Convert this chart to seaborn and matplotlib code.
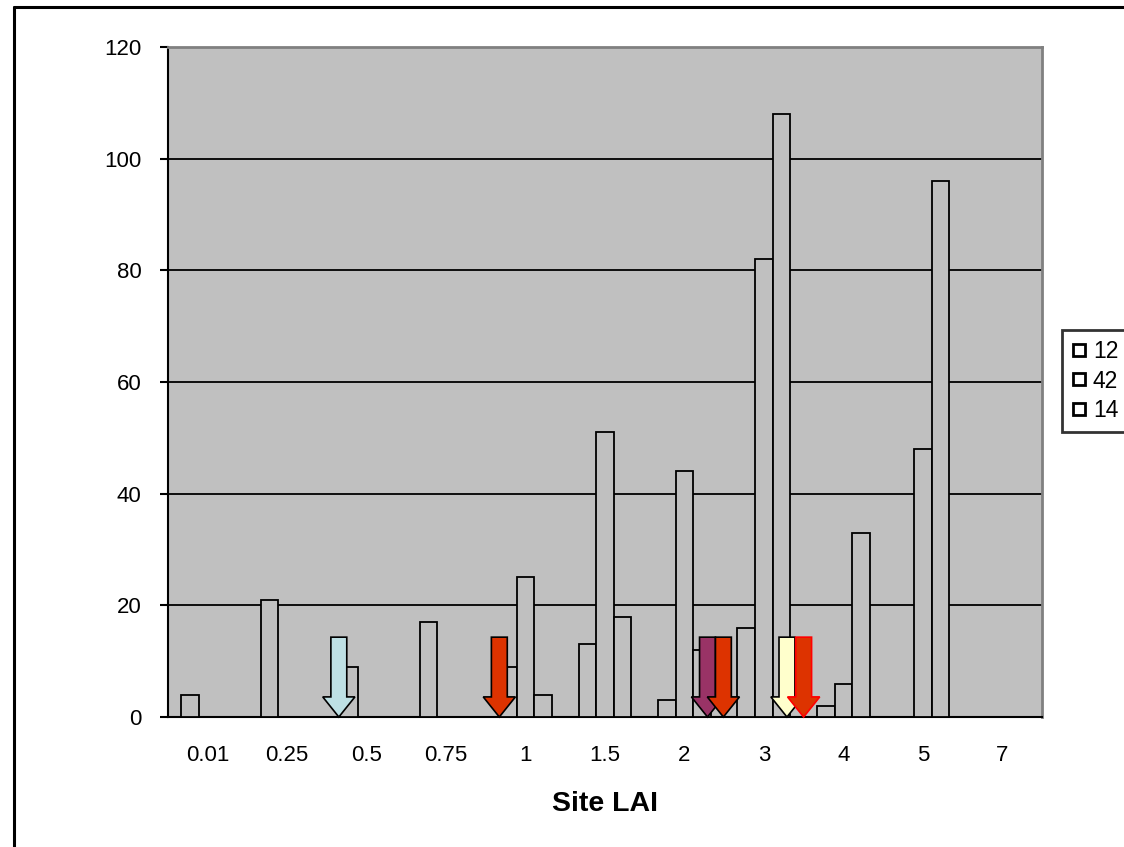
import pandas as pd
import matplotlib.pyplot as plt
import seaborn as sns
from matplotlib.patches import FancyArrow
from matplotlib.lines import Line2D

# site LAI classes and counts for the three series
lai = ['0.01', '0.25', '0.5', '0.75', '1', '1.5', '2', '3', '4', '5', '7']
s12 = [4, 21, 9, 17, 9, 13, 3, 16, 2, 0, 0]
s42 = [0, 0, 0, 0, 25, 51, 44, 82, 6, 48, 0]
s14 = [0, 0, 0, 0, 4, 18, 12, 108, 33, 96, 0]
series = ['12', '42', '14']

# down arrows marking positions on the category axis
arrow_x = [1.65, 3.67, 6.29, 6.49, 7.29, 7.50]
arrow_fc = ['#BEE0E4', '#DD3300', '#993366', '#DD3300', '#FFFFCC', '#DD3300']
arrow_ec = ['black', 'black', 'black', 'black', 'black', '#FF0000']

rows = []
for name, vals in zip(series, [s12, s42, s14]):
    for c, v in zip(lai, vals):
        rows.append({'lai': c, 'series': name, 'count': v})
df = pd.DataFrame(rows)

sns.set_style('white')
plt.rcParams['font.family'] = ['Liberation Sans', 'DejaVu Sans']
plt.rcParams.update({'text.color': 'black', 'axes.labelcolor': 'black',
                     'xtick.color': 'black', 'ytick.color': 'black'})

fig = plt.figure(figsize=(11.24, 8.47), dpi=100)
ax = fig.add_axes([168/1124, 1-717/847, (1042-168)/1124, (717-47)/847])
ax.set_facecolor('#C0C0C0')

sns.barplot(data=df, x='lai', y='count', hue='series', hue_order=series,
            order=lai, palette=['#C0C0C0']*3, edgecolor='black',
            linewidth=1.3, width=0.667, errorbar=None, ax=ax, zorder=3)
ax.get_legend().remove()

ax.set_xlim(-0.5, len(lai) - 0.5)
ax.set_ylim(0, 120)
ax.set_yticks(range(0, 121, 20))
for y in range(20, 101, 20):
    ax.axhline(y, color='black', lw=1.3, zorder=1)

for x, fc, ec in zip(arrow_x, arrow_fc, arrow_ec):
    ax.add_patch(FancyArrow(x, 14.3, 0, -14.3, width=0.2, head_width=0.405,
                            head_length=3.6, length_includes_head=True,
                            fc=fc, ec=ec, lw=1.2, zorder=5, clip_on=False))

for s in ['top', 'right']:
    ax.spines[s].set_color('#808080')
    ax.spines[s].set_linewidth(2)
for s in ['left', 'bottom']:
    ax.spines[s].set_color('black')
    ax.spines[s].set_linewidth(1.5)

ax.set_xticks([i - 0.5 for i in range(len(lai) + 1)], minor=True)
ax.tick_params(axis='x', which='minor', length=6, width=1.5, color='black', direction='out')
ax.tick_params(axis='x', which='major', length=0, pad=20, labelsize=16)
ax.tick_params(axis='y', length=6, width=1.5, color='black', direction='out', pad=13, labelsize=16, left=True)

ax.set_xlabel('Site LAI', fontsize=20.5, fontweight='bold', labelpad=18)
ax.set_ylabel('')

handles = [Line2D([], [], ls='none', marker='s', markersize=9, mfc='white',
                  mec='black', mew=2) for _ in series]
leg = fig.legend(handles, series, loc='upper left', bbox_to_anchor=(1062/1124, 1-330/847),
                 fontsize=16.5, frameon=True, fancybox=False, handlelength=0.6,
                 handletextpad=0.3, labelspacing=0.27, borderpad=0.45, borderaxespad=0)
leg.get_frame().set_edgecolor('black')
leg.get_frame().set_linewidth(2)

# outer chart border
fig.add_artist(Line2D([14/1124, 14/1124], [0, 1-7/847], color='black', lw=2.2))
fig.add_artist(Line2D([14/1124, 1], [1-7/847, 1-7/847], color='black', lw=2.2))

plt.savefig('out.png', dpi=100)
plt.close()
